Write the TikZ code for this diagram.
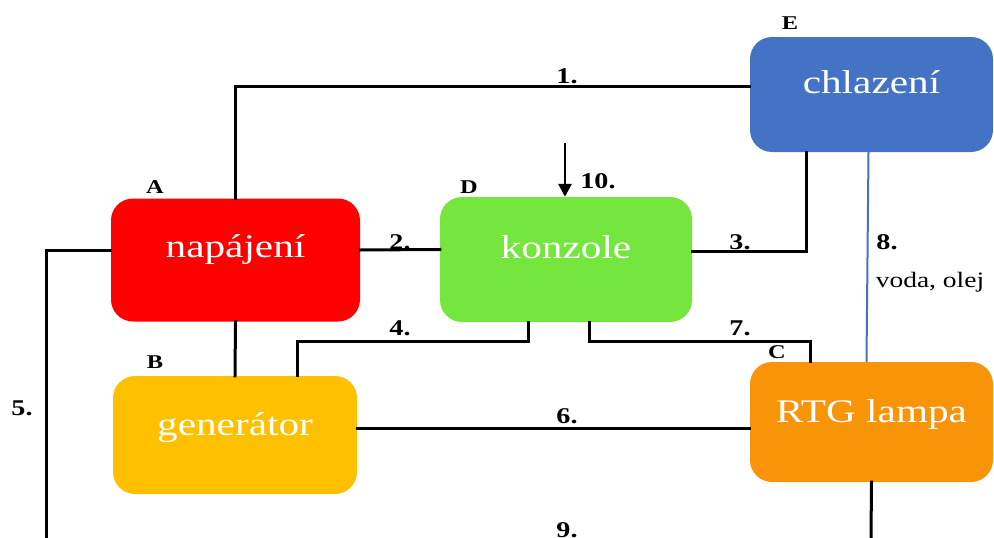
\documentclass[tikz,border=0pt]{standalone}
\usepackage{fontspec}
\setmainfont{Liberation Serif}[FakeStretch=1.25]
\usetikzlibrary{arrows.meta}
\definecolor{cred}{RGB}{255,0,0}
\definecolor{cyellow}{RGB}{255,192,0}
\definecolor{cgreen}{RGB}{117,230,62}
\definecolor{cblue}{RGB}{68,114,196}
\definecolor{corange}{RGB}{247,148,8}
\tikzset{
  blk/.style={draw=none, rounded corners=22pt, inner sep=0pt},
  blktext/.style={anchor=base, text=white, font=\fontsize{33}{38}\selectfont, inner sep=0pt},
  num/.style={anchor=base, font=\fontsize{22.5}{26}\selectfont\bfseries, inner sep=0pt},
  letter/.style={anchor=base, font=\fontsize{19.5}{22}\selectfont\bfseries, inner sep=0pt},
  wire/.style={line width=3pt, line cap=rect},
}
\begin{document}
\begin{tikzpicture}[x=1pt,y=-1pt]
\useasboundingbox (0,0) rectangle (994,538);
% boxes
\node[blk, fill=cred, minimum width=249pt, minimum height=123pt] (A) at (235.5,260) {};
\node[blk, fill=cyellow, minimum width=244pt, minimum height=118pt] (B) at (235,435) {};
\node[blk, fill=cgreen, minimum width=252pt, minimum height=125pt] (D) at (566,259.5) {};
\node[blk, fill=cblue, minimum width=243pt, minimum height=115pt] (E) at (871.5,94.5) {};
\node[blk, fill=corange, minimum width=243pt, minimum height=120pt] (C) at (871.5,422) {};
% box texts
\node[blktext] (At) at (235.5,257) {napájení};
\node[blktext] (Bt) at (235,435) {generátor};
\node[blktext] (Dt) at (566,258) {konzole};
\node[blktext] (Et) at (871.5,93) {chlazení};
\node[blktext] (Ct) at (871.5,422) {RTG lampa};
% letters
\node[letter] (lA) at (155,193) {A};
\node[letter] (lB) at (155,368) {B};
\node[letter] (lD) at (469,193) {D};
\node[letter] (lE) at (790,29) {E};
\node[letter] (lC) at (777,358) {C};
% free ends
\coordinate (e5) at (46,538);
\coordinate (e9) at (871,538);
\coordinate (s10) at (565,143);
% connectors
\draw[wire] (A.north) |- ([yshift=8pt]E.west);
\draw[wire] ([yshift=10pt]A.east) -- ([yshift=10pt]D.west);
\draw[wire] ([yshift=8pt]D.east) -| ([xshift=-65.5pt]E.south);
\draw[wire] ([xshift=-38pt]D.south) -- ++(0,19) -| ([xshift=62pt]B.north);
\draw[wire] ([yshift=10pt]A.west) -| (e5);
\draw[wire] (A.south) -- (B.north);
\draw[wire] ([yshift=7pt]B.east) -- ([yshift=7pt]B.east -| C.west);
\draw[wire] ([xshift=23pt]D.south) -- ++(0,19) -| ([xshift=-61.5pt]C.north);
\draw[line width=2pt, cblue] ([xshift=-3pt]E.south) -- ([xshift=-5pt]C.north);
\draw[wire] (C.south) -- (e9);
\draw[line width=2.8pt, -{Triangle[length=13pt,width=13pt]}] (s10) -- (s10 |- D.north);
% numbers
\node[num] (n1) at (567,83.5) {1.};
\node[num] (n2) at (400,249) {2.};
\node[num] (n3) at (740,249) {3.};
\node[num] (n4) at (400,335) {4.};
\node[num] (n5) at (22,415) {5.};
\node[num] (n6) at (567,423) {6.};
\node[num] (n7) at (740,335) {7.};
\node[num] (n8) at (887,249) {8.};
\node[anchor=base, font=\fontsize{22}{26}\selectfont, inner sep=0pt] (n8t) at (930,287) {voda, olej};
\node[num] (n9) at (567,537.5) {9.};
\node[num] (n10) at (598,188) {10.};
\end{tikzpicture}
\end{document}
